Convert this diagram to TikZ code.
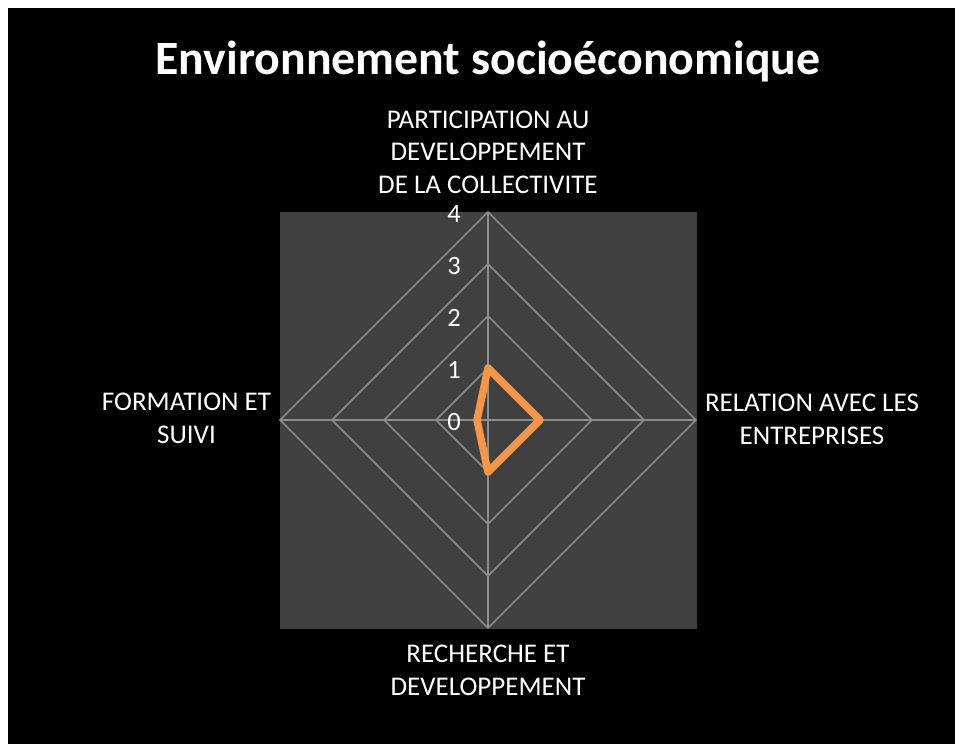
\documentclass[tikz,border=0pt]{standalone}
\usepackage{fontspec}
\setmainfont{Carlito}
\definecolor{plotbg}{HTML}{404040}
\definecolor{gridc}{HTML}{8C8C8C}
\definecolor{serieso}{HTML}{F79646}
\begin{document}
\begin{tikzpicture}[x=1pt,y=-1pt,
  lbl/.style={text=white,font=\fontsize{27}{32.5}\selectfont,align=center,inner sep=0pt,anchor=base},
  ticklbl/.style={text=white,font=\fontsize{26.5}{32.5}\selectfont,inner sep=0pt,anchor=center},
  gridline/.style={draw=gridc,line width=1.5pt},
  series/.style={draw=serieso,line width=7.5pt,line join=round,line cap=round}]
\useasboundingbox (0,0) rectangle (955,744);
\fill[white] (0,0) rectangle (955,744);
\fill[black] (8,8) rectangle (955,744);
\fill[plotbg] (280,212) rectangle (697,629);
\node[text=white,font=\bfseries\fontsize{47.8}{57}\selectfont,inner sep=0pt,anchor=base] (title) at (488,74) {Environnement socioéconomique};
% grid
\coordinate (c) at (488,420);
\foreach \r in {1,2,3,4} {
  \draw[gridline] (488,420-52*\r) -- (488+52*\r,420) -- (488,420+52*\r) -- (488-52*\r,420) -- cycle;
}
\coordinate (vt) at (488,212);
\coordinate (vr) at (696,420);
\coordinate (vb) at (488,628);
\coordinate (vl) at (280,420);
\draw[gridline] (c) -- (vt);
\draw[gridline] (c) -- (vr);
\draw[gridline] (c) -- (vb);
\draw[gridline] (c) -- (vl);
% tick labels
\node[ticklbl] (t0) at (454,422) {0};
\node[ticklbl] (t1) at (454,370) {1};
\node[ticklbl] (t2) at (454,318) {2};
\node[ticklbl] (t3) at (454,266) {3};
\node[ticklbl] (t4) at (454,214) {4};
% series
\coordinate (p1) at (488,368);
\coordinate (p2) at (540,420);
\coordinate (p3) at (488,472);
\coordinate (p4) at (477,420);
\draw[series] (p1) -- (p2) -- (p3) -- (p4) -- cycle;
% axis labels (base = last line's baseline)
\node[lbl] (lt) at (488,193.3) {PARTICIPATION AU\\DEVELOPPEMENT\\DE LA COLLECTIVITE};
\node[lbl] (lr) at (812,444) {RELATION AVEC LES\\ENTREPRISES};
\node[lbl] (lb) at (488,695) {RECHERCHE ET\\DEVELOPPEMENT};
\node[lbl] (ll) at (186.5,443) {FORMATION ET\\SUIVI};
\end{tikzpicture}
\end{document}
